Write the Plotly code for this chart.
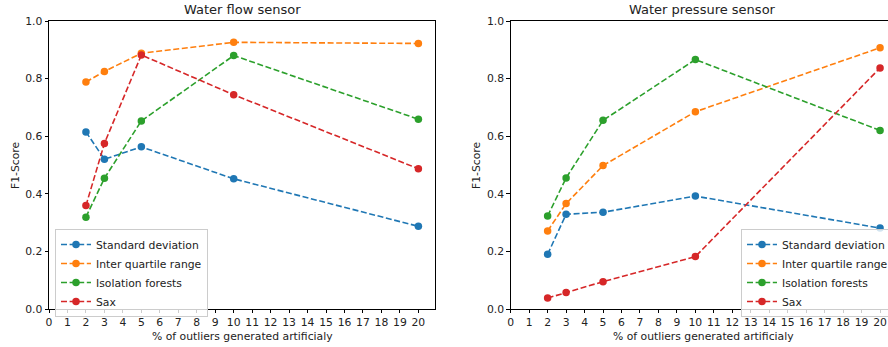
import plotly.graph_objects as go

x_pct = [2, 3, 5, 10, 20]
methods = ["Standard deviation", "Inter quartile range", "Isolation forests", "Sax"]
colors = ["#1f77b4", "#ff7f0e", "#2ca02c", "#d62728"]

flow_std = [0.615, 0.520, 0.563, 0.452, 0.287]
flow_iqr = [0.788, 0.825, 0.888, 0.926, 0.922]
flow_iso = [0.319, 0.454, 0.653, 0.880, 0.659]
flow_sax = [0.359, 0.575, 0.882, 0.744, 0.487]

pres_std = [0.190, 0.329, 0.336, 0.392, 0.281]
pres_iqr = [0.271, 0.366, 0.498, 0.685, 0.907]
pres_iso = [0.323, 0.455, 0.655, 0.866, 0.620]
pres_sax = [0.038, 0.057, 0.095, 0.182, 0.837]

x_ticks = list(range(0, 21))
y_ticks = [0.0, 0.2, 0.4, 0.6, 0.8, 1.0]

W, H = 888, 347
FONT = "DejaVu Sans, Arial, sans-serif"
FS = 10.8
TFS = 13

fig = go.Figure()

flow = [flow_std, flow_iqr, flow_iso, flow_sax]
pres = [pres_std, pres_iqr, pres_iso, pres_sax]

for name, col, ys in zip(methods, colors, flow):
    fig.add_trace(go.Scatter(x=x_pct, y=ys, name=name, mode="lines+markers",
                             line=dict(color=col, width=1.6, dash="6px,2.6px"),
                             marker=dict(color=col, size=7.5),
                             xaxis="x", yaxis="y", legend="legend"))
for name, col, ys in zip(methods, colors, pres):
    fig.add_trace(go.Scatter(x=x_pct, y=ys, name=name, mode="lines+markers",
                             line=dict(color=col, width=1.6, dash="6px,2.6px"),
                             marker=dict(color=col, size=7.5),
                             xaxis="x2", yaxis="y2", legend="legend2"))

ydom = [(H - 309) / H, (H - 21) / H]
left_dom = [49 / W, 435 / W]
right_dom = [510.7 / W, 1.0]

axis_common = dict(showgrid=False, zeroline=False, showline=True, linecolor="black",
                   linewidth=0.9, ticks="outside", ticklen=3.5, tickwidth=0.9,
                   tickcolor="black", tickfont=dict(family=FONT, size=FS, color="#222"),
                   automargin=False)

fig.update_layout(
    width=W, height=H,
    margin=dict(l=0, r=0, t=0, b=0, autoexpand=False),
    paper_bgcolor="white", plot_bgcolor="white",
    font=dict(family=FONT, size=FS, color="#222"),
    xaxis=dict(domain=left_dom, range=[0, 20.9], tickvals=x_ticks, anchor="y",
               mirror=True, **axis_common),
    yaxis=dict(domain=ydom, range=[0, 1], tickvals=y_ticks, tickformat=".1f",
               anchor="x", mirror=True, **axis_common),
    xaxis2=dict(domain=right_dom, range=[0, 20.43], tickvals=x_ticks, anchor="y2",
                mirror=True, **axis_common),
    yaxis2=dict(domain=ydom, range=[0, 1], tickvals=y_ticks, tickformat=".1f",
                anchor="x2", mirror=False, **axis_common),
    legend=dict(x=55 / W, y=(H - 229) / H, xanchor="left", yanchor="top",
                bgcolor="rgba(255,255,255,0.8)", bordercolor="#cccccc", borderwidth=1,
                font=dict(family=FONT, size=FS, color="#222"), tracegroupgap=0,
                itemwidth=30),
    legend2=dict(x=741 / W, y=(H - 229) / H, xanchor="left", yanchor="top",
                 bgcolor="rgba(255,255,255,0.8)", bordercolor="#cccccc", borderwidth=1,
                 font=dict(family=FONT, size=FS, color="#222"), tracegroupgap=0,
                 itemwidth=30),
    showlegend=True,
)

ann = [
    dict(text="Water flow sensor", x=242 / W, y=(H - 10) / H, size=TFS),
    dict(text="Water pressure sensor", x=702.8 / W, y=(H - 10) / H, size=TFS),
    dict(text="% of outliers generated artificialy", x=242 / W, y=(H - 336) / H, size=FS),
    dict(text="% of outliers generated artificialy", x=703 / W, y=(H - 336) / H, size=FS),
    dict(text="F1-Score", x=15 / W, y=(H - 165) / H, textangle=-90, size=FS),
    dict(text="F1-Score", x=476 / W, y=(H - 165) / H, textangle=-90, size=FS),
]
for a in ann:
    size = a.pop("size")
    fig.add_annotation(xref="paper", yref="paper", showarrow=False,
                       xanchor="center", yanchor="middle",
                       font=dict(family=FONT, size=size, color="#222"), **a)

fig.write_html("out.html")
